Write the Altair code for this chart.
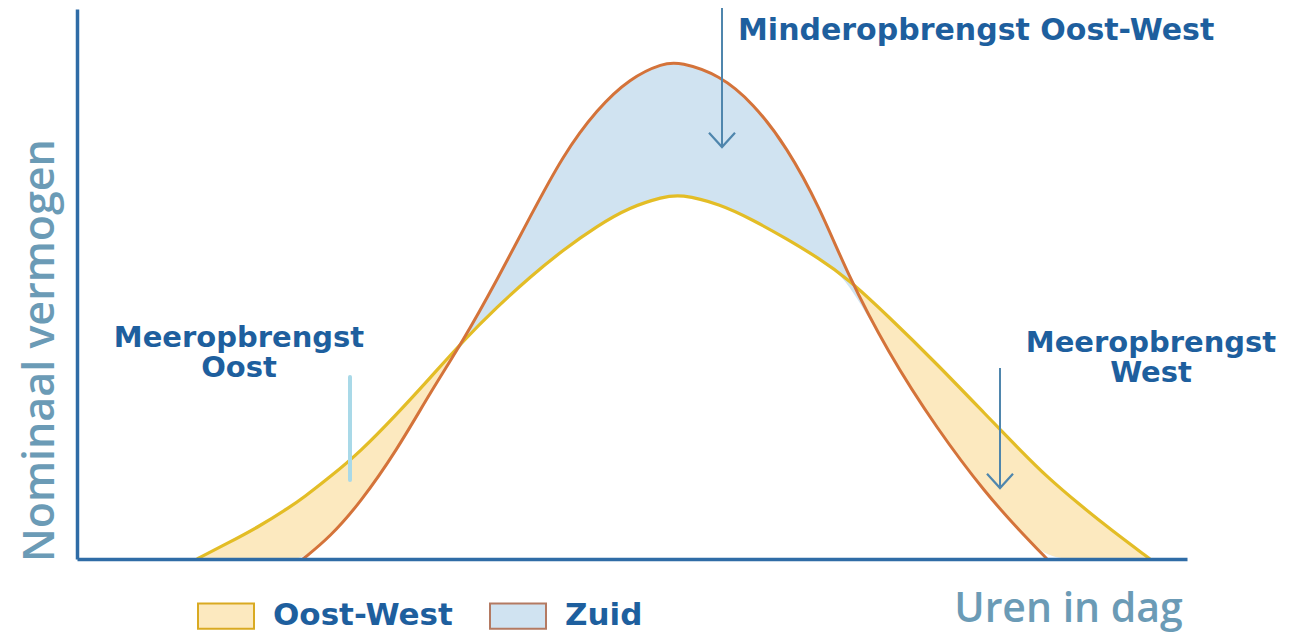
import altair as alt
import pandas as pd

# ---- data (x: px from the y-axis, y: px above the x-axis) ----
x_pos = [120, 153, 183, 213, 226, 253, 283, 320, 353, 386, 420, 453, 486, 520, 553,
         586, 603, 643, 676, 710, 743, 770, 810, 860, 910, 943, 970, 1003, 1033, 1073]
oost_west = [0, 17, 33, 52, 61, 82, 107, 145, 181, 218, 252, 282, 309, 333, 352,
             362, 365, 355, 339, 320, 300, 281, 244, 195, 143, 109, 82, 54, 30, 0]
zuid = [0, 0, 0, 0, 0, 22, 56, 109, 166, 218, 279, 342, 404, 450, 481,
        496, 497, 484, 456, 412, 351, 286, 208, 130, 64, 28, 0, 0, 0, 0]
series_names = ["Oost-West", "Zuid"]

ann_left_text = ["Minderopbrengst Oost-West"]
ann_left_x = [661]
ann_left_y = [519]
ann_block_text = ["Meeropbrengst\nOost", "Meeropbrengst\nWest"]
ann_block_x = [162, 1074]
ann_block_y = [235, 230]

arrow_x = [645, 923]
arrow_top = [560, 191]
arrow_tip = [412, 71]
stick_x = [273]
stick_top = [182]
stick_bottom = [79]

# ---- styling ----
FONT = "Open Sans"
BOLD_FONT = "DejaVu Sans"
DARK_BLUE = "#1e5f9e"
TITLE_BLUE = "#6b9bb6"
AXIS_BLUE = "#2f6ca6"
ARROW_BLUE = "#4f86ad"
FILL_COLORS = ["#fce9bf", "#d0e3f1"]
LINE_COLORS = ["#e3bd26", "#d4733a"]
LEGEND_BORDERS = ["#d9aa22", "#b47a62"]
INTERP = "basis"

wide = pd.DataFrame({"x": x_pos, "Oost-West": oost_west, "Zuid": zuid})

X_SCALE = alt.Scale(domain=[0, 1110], nice=False, zero=False)
Y_SCALE = alt.Scale(domain=[0, 550], nice=False, zero=False)

x_axis = alt.Axis(
    title="Uren in dag", ticks=False, labels=False, grid=False,
    domainColor=AXIS_BLUE, domainWidth=3.5, zindex=1,
    titleX=991, titleY=62, titleAlign="center", titleBaseline="alphabetic",
    titleFontSize=41, titleFont=FONT, titleFontWeight=600, titleColor=TITLE_BLUE,
)
y_axis = alt.Axis(
    title="Nominaal vermogen", ticks=False, labels=False, grid=False,
    domainColor=AXIS_BLUE, domainWidth=3.5, zindex=1,
    titleX=-24, titleY=341, titleAngle=270, titleAlign="center", titleBaseline="alphabetic",
    titleFontSize=43, titleFont=FONT, titleFontWeight=600, titleColor=TITLE_BLUE,
)

X = alt.X("x:Q", scale=X_SCALE, axis=x_axis)

legend = alt.Legend(
    orient="none", legendX=120, legendY=578, direction="horizontal", title=None,
    symbolType="M-1,-0.45H1V0.45H-1Z", symbolSize=3136, symbolStrokeWidth=2,
    labelFont=BOLD_FONT, labelFontSize=31, labelFontWeight="bold", labelColor=DARK_BLUE,
    labelOffset=18, labelLimit=400, columnPadding=33,
)

base_long = alt.Chart(wide).transform_fold(series_names, as_=["series", "value"])

areas = base_long.mark_area(interpolate=INTERP, strokeWidth=0).encode(
    x=X,
    y=alt.Y("value:Q", scale=Y_SCALE, axis=y_axis, stack=None),
    fill=alt.Fill("series:N", scale=alt.Scale(domain=series_names, range=FILL_COLORS), legend=legend),
    stroke=alt.Stroke("series:N", scale=alt.Scale(domain=series_names, range=LEGEND_BORDERS), legend=legend),
    order=alt.Order("series:N"),
)

white = alt.Chart(wide).transform_calculate(
    lo="min(datum['Oost-West'], datum['Zuid'])"
).mark_area(interpolate=INTERP, color="white").encode(
    x=X, y=alt.Y("lo:Q", scale=Y_SCALE)
)

ow_line = alt.Chart(wide).mark_line(
    interpolate=INTERP, strokeWidth=3.2, color=LINE_COLORS[0]
).encode(x=X, y=alt.Y("Oost-West:Q", scale=Y_SCALE))

zuid_line = alt.Chart(wide).transform_filter(
    "datum.x >= 226 && datum.x <= 970"
).mark_line(
    interpolate=INTERP, strokeWidth=3, color=LINE_COLORS[1]
).encode(x=X, y=alt.Y("Zuid:Q", scale=Y_SCALE))

arrows_df = pd.DataFrame({"x": arrow_x, "top": arrow_top, "tip": arrow_tip})
arrow_shafts = alt.Chart(arrows_df).mark_rule(color=ARROW_BLUE, strokeWidth=2).encode(
    x=X, y=alt.Y("top:Q", scale=Y_SCALE), y2="tip:Q"
)
arrow_heads = alt.Chart(arrows_df).mark_point(
    shape="M-1,-1.1L0,0L1,-1.1", filled=False, size=676, strokeWidth=2.2,
    color=ARROW_BLUE, opacity=1,
).encode(x=X, y=alt.Y("tip:Q", scale=Y_SCALE))

stick_df = pd.DataFrame({"x": stick_x, "top": stick_top, "bottom": stick_bottom})
stick = alt.Chart(stick_df).mark_rule(color="#a9d9e8", strokeWidth=4, strokeCap="round").encode(
    x=X, y=alt.Y("top:Q", scale=Y_SCALE), y2="bottom:Q"
)

left_df = pd.DataFrame({"x": ann_left_x, "y": ann_left_y, "t": ann_left_text})
left_text = alt.Chart(left_df).mark_text(
    align="left", baseline="alphabetic", font=BOLD_FONT, fontSize=30, fontWeight="bold", color=DARK_BLUE
).encode(x=X, y=alt.Y("y:Q", scale=Y_SCALE), text="t:N")

block_df = pd.DataFrame({"x": ann_block_x, "y": ann_block_y, "t": ann_block_text})
block_text = alt.Chart(block_df).mark_text(
    align="center", baseline="top", lineBreak="\n", lineHeight=30,
    font=BOLD_FONT, fontSize=29, fontWeight="bold", color=DARK_BLUE
).encode(x=X, y=alt.Y("y:Q", scale=Y_SCALE), text="t:N")

chart = alt.layer(
    areas, white, ow_line, zuid_line, arrow_shafts, arrow_heads, stick, left_text, block_text
).properties(
    width=1110, height=550,
    background="white",
    autosize=alt.AutoSizeParams(type="none"),
    padding={"left": 69, "top": 1, "right": 100, "bottom": 75},
).configure_view(stroke=None)

chart.save("out.html", embed_options={"renderer": "svg", "actions": False})
